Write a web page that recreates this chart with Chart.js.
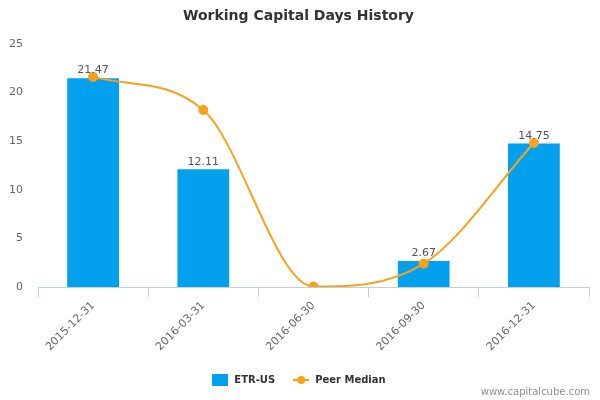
<!DOCTYPE html>
<html>
<head>
<meta charset="utf-8">
<script src="https://cdn.jsdelivr.net/npm/chart.js@4/dist/chart.umd.min.js"></script>
<style>
  body { margin: 0; background: #fff; }
  #wrap { position: relative; width: 600px; height: 400px; }
  #credits { position: absolute; right: 10px; bottom: 3px; font: 10px "DejaVu Sans", sans-serif; color: #909090; }
</style>
</head>
<body>
<div id="wrap">
  <canvas id="wcChart" width="600" height="400"></canvas>
  <div id="credits">www.capitalcube.com</div>
</div>
<script>
const categories = ['2015-12-31', '2016-03-31', '2016-06-30', '2016-09-30', '2016-12-31'];
const companyValues = [21.47, 12.11, null, 2.67, 14.75];
const peerValues = [21.6, 18.2, 0.05, 2.4, 14.8];
const yTicks = [0, 5, 10, 15, 20, 25];

const blue = '#03a0ee';
const orange = '#f7a21b';

// legend markers: square for the bars, line + dot for the peer series
function makeMarker(kind) {
    const c = document.createElement('canvas');
    c.width = 16; c.height = 12;
    const g = c.getContext('2d');
    if (kind === 'bar') {
        g.fillStyle = blue;
        g.fillRect(0, 0, 16, 12);
    } else {
        g.strokeStyle = orange;
        g.lineWidth = 2;
        g.beginPath(); g.moveTo(0, 6); g.lineTo(16, 6); g.stroke();
        g.fillStyle = orange;
        g.beginPath(); g.arc(8, 6, 4, 0, Math.PI * 2); g.fill();
    }
    return c;
}
const barMarker = makeMarker('bar');
const lineMarker = makeMarker('line');

// value labels above the bars
const barLabels = {
    id: 'barLabels',
    afterDatasetsDraw(chart) {
        const ctx = chart.ctx;
        const meta = chart.getDatasetMeta(0);
        ctx.save();
        ctx.font = '11px "DejaVu Sans", sans-serif';
        ctx.fillStyle = '#555';
        ctx.textAlign = 'center';
        ctx.textBaseline = 'bottom';
        meta.data.forEach((bar, i) => {
            const v = companyValues[i];
            if (v === null) return;
            ctx.fillText(v.toFixed(2), bar.x, bar.y - 2);
        });
        ctx.restore();
    }
};

const ctx = document.getElementById('wcChart').getContext('2d');
const wcChart = new Chart(ctx, {
    type: 'bar',
    data: {
        labels: categories,
        datasets: [{
            label: 'ETR-US',
            data: companyValues,
            backgroundColor: blue,
            barPercentage: 0.47,
            categoryPercentage: 1,
            order: 2
        }, {
            type: 'line',
            label: 'Peer Median',
            data: peerValues,
            borderColor: orange,
            backgroundColor: orange,
            borderWidth: 2,
            pointRadius: 4,
            pointHoverRadius: 4,
            cubicInterpolationMode: 'monotone',
            fill: false,
            order: 1
        }]
    },
    options: {
        responsive: false,
        animation: false,
        layout: { padding: { left: 8, right: 11, top: 0, bottom: 5 } },
        plugins: {
            title: {
                display: true,
                text: 'Working Capital Days History',
                color: '#333',
                font: { family: '"DejaVu Sans", sans-serif', size: 14, weight: 'bold' },
                padding: { top: 8, bottom: 19 }
            },
            legend: {
                position: 'bottom',
                labels: {
                    color: '#333',
                    font: { family: '"DejaVu Sans", sans-serif', size: 10, weight: 'bold' },
                    usePointStyle: true,
                    pointStyleWidth: 18,
                    padding: 10,
                    generateLabels(chart) {
                        return chart.data.datasets.map((ds, i) => ({
                            text: ds.label + (i === 0 ? '  ' : ''),
                            datasetIndex: i,
                            pointStyle: i === 0 ? barMarker : lineMarker,
                            fontColor: '#333',
                            lineWidth: 0
                        }));
                    }
                }
            },
            tooltip: { enabled: false }
        },
        scales: {
            x: {
                offset: true,
                grid: { display: true, offset: true, drawOnChartArea: false, color: '#c0d0e0', tickLength: 10 },
                border: { color: '#c0d0e0' },
                ticks: {
                    color: '#666',
                    font: { family: '"DejaVu Sans", sans-serif', size: 11 },
                    minRotation: 45,
                    maxRotation: 45,
                    padding: 2
                },
                afterFit(axis) { axis.height = 78; }
            },
            y: {
                min: 0,
                max: 25,
                afterBuildTicks(axis) { axis.ticks = yTicks.map(v => ({ value: v })); },
                grid: { display: false, drawTicks: false },
                border: { display: false },
                ticks: {
                    color: '#666',
                    font: { family: '"DejaVu Sans", sans-serif', size: 11 },
                    padding: 15
                },
                afterFit(axis) { axis.width = 30; }
            }
        }
    },
    plugins: [barLabels]
});
</script>
</body>
</html>
